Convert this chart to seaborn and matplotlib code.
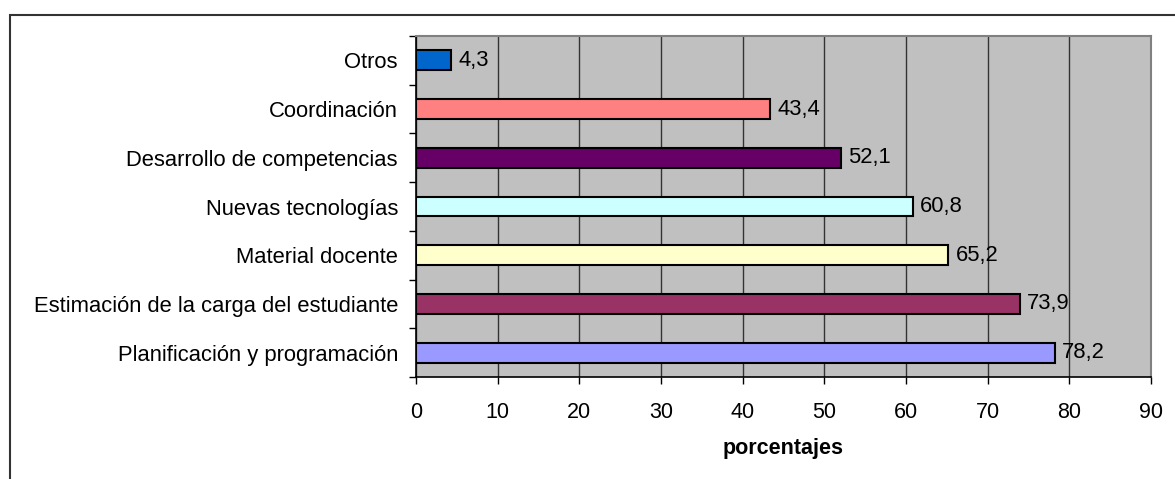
import numpy as np
import pandas as pd
import matplotlib
matplotlib.use("Agg")
import matplotlib.pyplot as plt
import seaborn as sns
from matplotlib.patches import Rectangle

categorias = ["Otros", "Coordinación", "Desarrollo de competencias",
              "Nuevas tecnologías", "Material docente",
              "Estimación de la carga del estudiante",
              "Planificación y programación"]
porcentajes = [4.3, 43.4, 52.1, 60.8, 65.2, 73.9, 78.2]
colores = ["#0066CC", "#FF8080", "#660066", "#CCFFFF", "#FFFFCC", "#993366", "#9999FF"]
ticks_x = [0, 10, 20, 30, 40, 50, 60, 70, 80, 90]

df = pd.DataFrame({"categoria": categorias, "valor": porcentajes})

sns.set_theme(style="white")
plt.rcParams['font.family'] = ['Liberation Sans', 'DejaVu Sans']
plt.rcParams['text.color'] = 'black'
plt.rcParams['axes.labelcolor'] = 'black'
plt.rcParams['xtick.color'] = 'black'
plt.rcParams['ytick.color'] = 'black'
narrow = ['Liberation Sans Narrow', 'Liberation Sans', 'DejaVu Sans']

fig = plt.figure(figsize=(11.75, 4.79), dpi=100)
ax = fig.add_axes([416 / 1175, 1 - 377 / 479, (1151 - 416) / 1175, (377 - 36) / 479])

# marco exterior del grafico
fig.patches.append(Rectangle((10 / 1175, -0.1), 1.2, 1 - 15 / 479 + 0.1,
                             transform=fig.transFigure, fill=False,
                             edgecolor="#333333", linewidth=1.5, zorder=0))

ax.set_facecolor("#C0C0C0")
ax.set_axisbelow(True)
ax.xaxis.grid(True, color="#333333", linewidth=1)
ax.yaxis.grid(False)

sns.barplot(data=df, x="valor", y="categoria", hue="categoria", palette=colores,
            saturation=1, orient="h", width=0.41, edgecolor="black",
            linewidth=1.5, legend=False, ax=ax)

for i, v in enumerate(porcentajes):
    ax.annotate(f"{v:.1f}".replace(".", ","), xy=(v, i), xytext=(5, 0),
                textcoords="offset points", va="center", ha="left",
                fontsize=15.8, color="black")

ax.set_xlim(0, 90)
ax.set_ylim(6.5, -0.5)
ax.set_xticks(ticks_x)
ax.set_xticklabels([str(t) for t in ticks_x], fontsize=15.5, family=narrow)
ax.tick_params(axis="x", bottom=True, length=5, width=1, color="black", pad=13)
ax.set_yticks(range(len(categorias)))
ax.set_yticklabels(categorias, fontsize=15.8)
ax.set_yticks(np.arange(-0.5, 7, 1), minor=True)
ax.tick_params(axis="y", which="major", length=0, pad=13)
ax.tick_params(axis="y", which="minor", left=True, length=5, width=1, color="black")

for s in ["top", "right"]:
    ax.spines[s].set_color("#808080")
    ax.spines[s].set_linewidth(1.5)
for s in ["left", "bottom"]:
    ax.spines[s].set_color("black")
    ax.spines[s].set_linewidth(1.2)

ax.set_ylabel("")
ax.set_xlabel("porcentajes", fontsize=15.5, fontweight="bold", family=narrow,
              labelpad=11)

fig.savefig("out.png", dpi=100)
